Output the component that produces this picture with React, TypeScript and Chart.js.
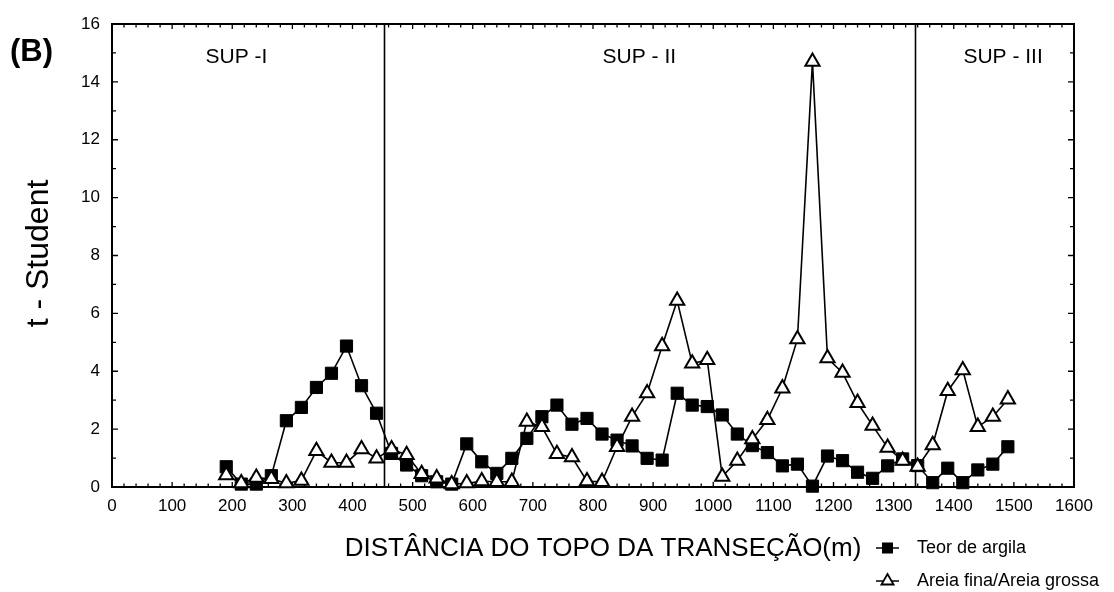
import React, { useEffect, useRef } from "react";
import { Chart, registerables } from "chart.js";

Chart.register(...registerables);

// Distance from the top of the transect (m)
const distances = [
  190, 215, 240, 265, 290, 315, 340, 365, 390, 415, 440, 465, 490, 515, 540, 565, 590, 615,
  640, 665, 690, 715, 740, 765, 790, 815, 840, 865, 890, 915, 940, 965, 990, 1015, 1040, 1065,
  1090, 1115, 1140, 1165, 1190, 1215, 1240, 1265, 1290, 1315, 1340, 1365, 1390, 1415, 1440,
  1465, 1490,
];

// t - Student, Teor de argila (filled squares)
const teorArgila = [
  0.7, 0.1, 0.1, 0.39, 2.29, 2.75, 3.44, 3.93, 4.87, 3.5, 2.55, 1.16, 0.76, 0.39, 0.18, 0.1, 1.49, 0.87,
  0.47, 0.99, 1.68, 2.43, 2.83, 2.17, 2.37, 1.83, 1.62, 1.42, 0.99, 0.93, 3.24, 2.83, 2.78, 2.49, 1.83, 1.43,
  1.19, 0.73, 0.79, 0.03, 1.07, 0.91, 0.51, 0.3, 0.73, 0.97, 0.74, 0.15, 0.65, 0.15, 0.59,
  0.79, 1.39,
];

// t - Student, Areia fina/Areia grossa (open triangles)
const areiaFinaGrossa = [
  0.41, 0.13, 0.32, 0.28, 0.13, 0.22, 1.25, 0.84, 0.84, 1.31, 0.99, 1.31, 1.11, 0.45, 0.3, 0.1, 0.13, 0.2,
  0.18, 0.18, 2.26, 2.08, 1.14, 1.03, 0.2, 0.18, 1.39, 2.43, 3.24, 4.87, 6.44, 4.27, 4.39, 0.36, 0.91, 1.65,
  2.32, 3.41, 5.11, 14.7, 4.45, 3.95, 2.91, 2.12, 1.36, 0.91, 0.7, 1.45, 3.32, 4.04, 2.08,
  2.43, 3.03,
];

const seriesNames = ["Teor de argila", "Areia fina/Areia grossa"];
const zoneBoundaries = [452, 1335];
const zoneLabels = ["SUP -I", "SUP - II", "SUP - III"];
const zoneLabelX = [207, 877, 1482];
const zoneLabelY = 14.85;
const panelLabel = "(B)";
const xTitle = "DISTÂNCIA DO TOPO DA TRANSEÇÃO(m)";
const yTitle = "t - Student";

const FONT = '"Liberation Sans", Arial, Helvetica, sans-serif';

const decorPlugin = {
  id: "decor",
  beforeDatasetsDraw(chart: any) {
    const { ctx, chartArea: a, scales } = chart;
    const xs = scales.x;
    const ys = scales.y;
    ctx.save();
    ctx.strokeStyle = "#000";
    // zone separators
    ctx.lineWidth = 1.6;
    zoneBoundaries.forEach((v) => {
      const px = Math.round(xs.getPixelForValue(v)) + 0.5;
      ctx.beginPath();
      ctx.moveTo(px, a.top);
      ctx.lineTo(px, a.bottom);
      ctx.stroke();
    });
    // inward ticks
    ctx.lineWidth = 1.3;
    for (let v = 0; v <= 1600; v += 20) {
      const px = xs.getPixelForValue(v);
      const len = v % 100 === 0 ? 5 : 3.5;
      ctx.beginPath();
      ctx.moveTo(px, a.bottom);
      ctx.lineTo(px, a.bottom - len);
      ctx.moveTo(px, a.top);
      ctx.lineTo(px, a.top + len);
      ctx.stroke();
    }
    for (let v = 0; v <= 16; v += 1) {
      const py = ys.getPixelForValue(v);
      const len = v % 2 === 0 ? 6 : 4;
      ctx.beginPath();
      ctx.moveTo(a.left, py);
      ctx.lineTo(a.left + len, py);
      ctx.moveTo(a.right, py);
      ctx.lineTo(a.right - len, py);
      ctx.stroke();
    }
    // frame
    ctx.lineWidth = 2;
    ctx.strokeRect(a.left, a.top, a.right - a.left, a.bottom - a.top);
    // zone labels
    ctx.fillStyle = "#000";
    ctx.font = `21px ${FONT}`;
    ctx.textAlign = "center";
    ctx.textBaseline = "middle";
    zoneLabels.forEach((t, i) => {
      ctx.fillText(t, xs.getPixelForValue(zoneLabelX[i]), ys.getPixelForValue(zoneLabelY));
    });
    ctx.restore();
  },
  afterDraw(chart: any) {
    const { ctx, chartArea: a } = chart;
    ctx.save();
    ctx.fillStyle = "#000";
    ctx.strokeStyle = "#000";
    // panel label
    ctx.font = `bold 31px ${FONT}`;
    ctx.textAlign = "left";
    ctx.textBaseline = "middle";
    ctx.fillText(panelLabel, 10, 52);
    // y title
    ctx.save();
    ctx.translate(39, (a.top + a.bottom) / 2 - 2);
    ctx.rotate(-Math.PI / 2);
    ctx.font = `32px ${FONT}`;
    ctx.textAlign = "center";
    ctx.textBaseline = "middle";
    ctx.fillText(yTitle, 0, 0);
    ctx.restore();
    // x title
    ctx.font = `26px ${FONT}`;
    ctx.textAlign = "center";
    ctx.textBaseline = "middle";
    ctx.fillText(xTitle, 603, 549);
    // legend
    const lx0 = 876;
    const lx1 = 899;
    const mx = (lx0 + lx1) / 2;
    const rows = [548, 581];
    rows.forEach((ry, i) => {
      ctx.lineWidth = 1.5;
      ctx.beginPath();
      ctx.moveTo(lx0, ry);
      ctx.lineTo(lx1, ry);
      ctx.stroke();
      if (i === 0) {
        ctx.fillRect(mx - 5.5, ry - 5.5, 11, 11);
      } else {
        const r = 7;
        ctx.beginPath();
        ctx.moveTo(mx, ry - r);
        ctx.lineTo(mx + r * 0.866, ry + r * 0.5);
        ctx.lineTo(mx - r * 0.866, ry + r * 0.5);
        ctx.closePath();
        ctx.fillStyle = "#fff";
        ctx.fill();
        ctx.lineWidth = 1.8;
        ctx.stroke();
        ctx.fillStyle = "#000";
      }
      ctx.font = `18px ${FONT}`;
      ctx.textAlign = "left";
      ctx.textBaseline = "middle";
      ctx.fillText(seriesNames[i], 917, ry);
    });
    ctx.restore();
  },
};

export default function App() {
  const canvasRef = useRef<HTMLCanvasElement | null>(null);

  useEffect(() => {
    const canvas = canvasRef.current;
    if (!canvas) return;
    const chart = new Chart(canvas, {
      type: "line",
      data: {
        datasets: [
          {
            label: seriesNames[0],
            data: distances.map((d, i) => ({ x: d, y: teorArgila[i] })),
            borderColor: "#000",
            borderWidth: 1.6,
            pointStyle: "rect",
            pointRadius: 8.6,
            pointBackgroundColor: "#000",
            pointBorderColor: "#000",
            pointBorderWidth: 1,
            tension: 0,
            clip: false,
            order: 1,
          },
          {
            label: seriesNames[1],
            data: distances.map((d, i) => ({ x: d, y: areiaFinaGrossa[i] })),
            borderColor: "#000",
            borderWidth: 1.6,
            pointStyle: "triangle",
            pointRadius: 8.2,
            pointBackgroundColor: "#fff",
            pointBorderColor: "#000",
            pointBorderWidth: 2,
            tension: 0,
            clip: false,
            order: 0,
          },
        ],
      },
      options: {
        responsive: false,
        animation: false,
        devicePixelRatio: 1,
        layout: { padding: { left: 0, top: 24, right: 40, bottom: 0 } },
        plugins: {
          legend: { display: false },
          tooltip: { enabled: false },
        },
        scales: {
          x: {
            type: "linear",
            min: 0,
            max: 1600,
            grid: { display: false, drawTicks: false },
            border: { display: false },
            ticks: {
              stepSize: 100,
              padding: 9,
              color: "#000",
              font: { family: FONT, size: 17 },
              maxRotation: 0,
              autoSkip: false,
              callback: (v: any) => String(v),
            },
            afterFit: (s: any) => {
              s.height = 105;
            },
          },
          y: {
            type: "linear",
            min: 0,
            max: 16,
            grid: { display: false, drawTicks: false },
            border: { display: false },
            ticks: {
              stepSize: 2,
              padding: 12,
              color: "#000",
              font: { family: FONT, size: 17 },
              callback: (v: any) => String(v),
            },
            afterFit: (s: any) => {
              s.width = 112;
            },
          },
        },
      },
      plugins: [decorPlugin],
    });
    return () => chart.destroy();
  }, []);

  return (
    <div style={{ position: "absolute", left: 0, top: 0, width: 1114, height: 592, background: "#fff" }}>
      <canvas ref={canvasRef} width={1114} height={592} style={{ width: 1114, height: 592, display: "block" }} />
    </div>
  );
}
